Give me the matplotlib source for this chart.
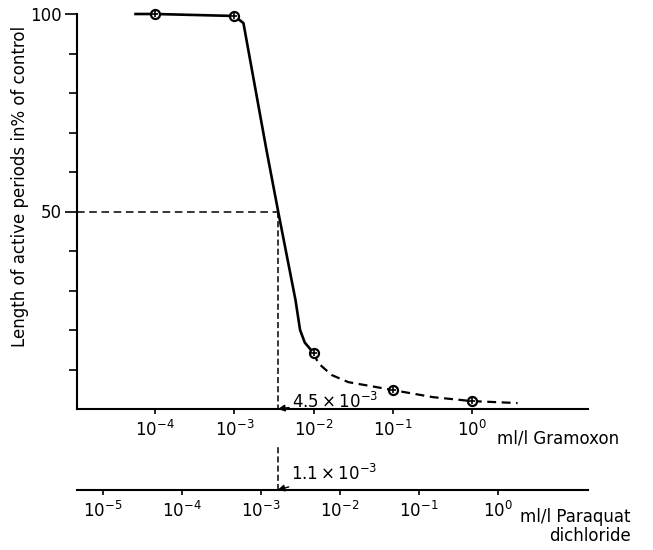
import matplotlib.pyplot as plt
from matplotlib.ticker import FixedLocator

plt.rcParams['font.family'] = ['DejaVu Sans']
plt.rcParams['font.size'] = 12

# measured points: ml/l Gramoxon vs length of active periods (% of control)
conc = [1e-4, 1e-3, 1e-2, 1e-1, 1e0]
activity = [100, 99.5, 14.2, 4.8, 2.0]

# hand drawn curve (solid part, then dashed part)
solid_x = [10**-4.25, 1e-4, 1e-3, 10**-2.886, 10**-2.595, 10**-2.443,
           10**-2.228, 10**-2.17, 10**-2.11, 1e-2]
solid_y = [100, 100, 99.5, 97.7, 65.6, 49.6, 27.6, 20.0, 16.8, 14.2]
dash_x = [1e-2, 10**-1.94, 10**-1.77, 10**-1.56, 10**-1.22, 1e-1,
          10**-0.49, 1e0, 10**0.58]
dash_y = [14.2, 11.6, 8.6, 6.8, 5.6, 4.8, 3.0, 2.0, 1.5]

# 50 % level, as drawn on each concentration scale
half_level = 50
half_gram = 10**-2.45
half_para = 10**-2.79
half_gram_label = r'$4.5\times10^{-3}$'
half_para_label = r'$1.1\times10^{-3}$'

gram_ticks = [1e-4, 1e-3, 1e-2, 1e-1, 1e0]
gram_labels = [r'$10^{-4}$', r'$10^{-3}$', r'$10^{-2}$', r'$10^{-1}$', r'$10^{0}$']
para_ticks = [1e-5, 1e-4, 1e-3, 1e-2, 1e-1, 1e0]
para_labels = [r'$10^{-5}$', r'$10^{-4}$', r'$10^{-3}$', r'$10^{-2}$', r'$10^{-1}$', r'$10^{0}$']

W, H = 653, 550
fig = plt.figure(figsize=(W / 100, H / 100), dpi=100)

# main axes (Gramoxon scale)
ax = fig.add_axes([77 / W, 1 - 409 / H, 511 / W, 395 / H])
ax.set_xscale('log')
ax.set_xlim(10**-4.99, 10**1.47)
ax.set_ylim(0, 100)
for s in ['top', 'right']:
    ax.spines[s].set_visible(False)
for s in ['left', 'bottom']:
    ax.spines[s].set_linewidth(1.5)

ax.plot(solid_x, solid_y, color='black', lw=1.9, clip_on=False)
ax.plot(dash_x, dash_y, color='black', lw=1.6, ls=(0, (4, 2.5)), clip_on=False)
ax.plot(conc, activity, 'o', ms=6.5, mfc='white', mec='black', mew=1.6, clip_on=False)
ax.plot(conc, activity, '+', ms=5, color='black', mew=1.2, clip_on=False)

ax.plot([ax.get_xlim()[0], half_gram], [half_level, half_level], color='black',
        lw=1.1, ls=(0, (5, 3)))
ax.plot([half_gram, half_gram], [half_level, 0], color='black', lw=1.1,
        ls=(0, (4, 2)))
ax.annotate(half_gram_label, xy=(half_gram, 0), xytext=(10, 1),
            textcoords='offset points', ha='left', va='baseline',
            arrowprops=dict(arrowstyle='-|>', color='black', lw=1.0,
                            shrinkA=0, shrinkB=0, mutation_scale=10))

ax.yaxis.set_major_locator(FixedLocator([50, 100]))
ax.yaxis.set_minor_locator(FixedLocator([10, 20, 30, 40, 60, 70, 80, 90]))
ax.tick_params(axis='y', which='major', length=9, width=1.2, pad=2)
ax.tick_params(axis='y', which='minor', length=5.5, width=1.2)
ax.xaxis.set_major_locator(FixedLocator(gram_ticks))
ax.xaxis.set_minor_locator(FixedLocator([]))
ax.set_xticklabels(gram_labels)
ax.tick_params(axis='x', which='major', length=3.5, width=1.2, pad=4)

ax.annotate('ml/l Gramoxon', xy=(1e0, 0), xycoords=('data', 'axes fraction'),
            xytext=(18, -21), textcoords='offset points', ha='left', va='center')

fig.text(20 / W, 1 - 186 / H, 'Length of active periods in% of control',
         rotation=90, ha='center', va='center')

# second concentration scale (Paraquat dichloride)
ax2 = fig.add_axes([77 / W, 1 - 490 / H, 511 / W, 45 / H])
ax2.set_xscale('log')
ax2.set_xlim(10**-5.33, 10**1.14)
ax2.set_ylim(0, 1)
ax2.patch.set_visible(False)
for s in ['top', 'right', 'left']:
    ax2.spines[s].set_visible(False)
ax2.spines['bottom'].set_linewidth(1.5)
ax2.set_yticks([])
ax2.xaxis.set_major_locator(FixedLocator(para_ticks))
ax2.xaxis.set_minor_locator(FixedLocator([]))
ax2.set_xticklabels(para_labels)
ax2.tick_params(axis='x', which='major', length=3.5, width=1.2, pad=4)

ax2.plot([half_para, half_para], [0, 1], color='black', lw=1.1, ls=(0, (4, 2)),
         clip_on=False)
ax2.annotate(half_para_label, xy=(half_para, 0), xytext=(10, 7),
             textcoords='offset points', ha='left', va='baseline',
             arrowprops=dict(arrowstyle='-|>', color='black', lw=1.0,
                             shrinkA=0, shrinkB=0, mutation_scale=10))
ax2.annotate('ml/l Paraquat\ndichloride', xy=(1e0, 0), xycoords=('data', 'axes fraction'),
             xytext=(16, -13), textcoords='offset points', ha='left', va='top',
             multialignment='right', linespacing=1.1)

fig.savefig('out.png', dpi=100)
